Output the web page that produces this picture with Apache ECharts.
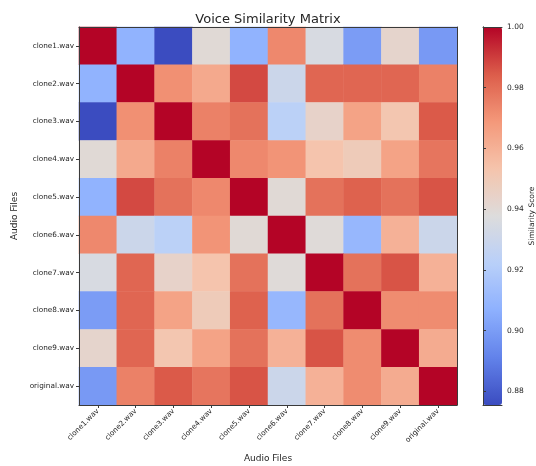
<!DOCTYPE html>
<html>
<head>
<meta charset="utf-8">
<script src="https://cdn.jsdelivr.net/npm/echarts@6/dist/echarts.min.js"></script>
<style>html,body{margin:0;padding:0;background:#fff;}#c{width:536px;height:466px;}</style>
</head>
<body>
<div id="c"></div>
<script>
const fileLabels = ['clone1.wav','clone2.wav','clone3.wav','clone4.wav','clone5.wav','clone6.wav','clone7.wav','clone8.wav','clone9.wav','original.wav'];
const rowClone1   = [1.000, 0.908, 0.8755, 0.940, 0.908, 0.973, 0.935, 0.900, 0.943, 0.899];
const rowClone2   = [0.908, 1.000, 0.971, 0.963, 0.988, 0.930, 0.982, 0.982, 0.982, 0.975];
const rowClone3   = [0.8755, 0.971, 1.000, 0.975, 0.979, 0.923, 0.944, 0.965, 0.952, 0.985];
const rowClone4   = [0.940, 0.963, 0.975, 1.000, 0.973, 0.970, 0.953, 0.949, 0.965, 0.978];
const rowClone5   = [0.908, 0.988, 0.979, 0.973, 1.000, 0.940, 0.979, 0.983, 0.979, 0.986];
const rowClone6   = [0.973, 0.930, 0.923, 0.970, 0.940, 1.000, 0.939, 0.910, 0.960, 0.930];
const rowClone7   = [0.935, 0.982, 0.944, 0.953, 0.979, 0.939, 1.000, 0.979, 0.986, 0.960];
const rowClone8   = [0.900, 0.982, 0.965, 0.949, 0.983, 0.910, 0.979, 1.000, 0.972, 0.972];
const rowClone9   = [0.943, 0.982, 0.952, 0.965, 0.979, 0.960, 0.986, 0.972, 1.000, 0.962];
const rowOriginal = [0.899, 0.975, 0.985, 0.978, 0.986, 0.930, 0.960, 0.972, 0.962, 1.000];
const colorbarTicks = [0.88, 0.90, 0.92, 0.94, 0.96, 0.98, 1.00];
const scoreMin = 0.8755;
const scoreMax = 1.0;

const rows = [rowClone1,rowClone2,rowClone3,rowClone4,rowClone5,rowClone6,rowClone7,rowClone8,rowClone9,rowOriginal];
const cells = [];
rows.forEach((r, yi) => r.forEach((v, xi) => cells.push([xi, yi, v])));

const coolwarm = ['#3b4cc0','#6282ea','#8db0fe','#b9d0f9','#dddcdc','#f5c4ac','#f4987a','#dc5d4a','#b40426'];
const FONT = 'DejaVu Sans';
const TXT = '#262626';
const LINE = '#3a3a3a';
const frameAxis = {axisLabel:{show:false}, axisTick:{show:false}, splitLine:{show:false}, axisLine:{show:true, lineStyle:{color:LINE, width:1}}, z:10};

const chart = echarts.init(document.getElementById('c'), null, {renderer:'canvas'});
chart.setOption({
  animation: false,
  backgroundColor: '#fff',
  textStyle: {fontFamily: FONT},
  title: {text:'Voice Similarity Matrix', left: 'center', top: 8, itemGap: 0,
    textStyle:{fontFamily:FONT, fontSize:13, fontWeight:'normal', color:TXT}},
  grid: [
    {left:79, top:27, width:378, height:378, outerBoundsMode:'none', containLabel:false},
    {left:483, top:27, width:19, height:378, outerBoundsMode:'none', containLabel:false}
  ],
  xAxis: [
    {type:'category', gridIndex:0, data:fileLabels, position:'bottom', z:10,
      axisLine:{show:true, lineStyle:{color:LINE}},
      axisTick:{show:true, alignWithLabel:true, length:3, lineStyle:{color:LINE}},
      axisLabel:{rotate:45, fontSize:7.3, color:TXT, fontFamily:FONT, margin:5, interval:0},
      splitLine:{show:false},
      name:'Audio Files', nameLocation:'middle', nameGap:49,
      nameTextStyle:{fontSize:9, color:TXT, fontFamily:FONT}},
    Object.assign({type:'category', gridIndex:0, data:fileLabels, position:'top'}, frameAxis),
    Object.assign({type:'value', gridIndex:1, min:0, max:1, position:'bottom'}, frameAxis),
    Object.assign({type:'value', gridIndex:1, min:0, max:1, position:'top'}, frameAxis)
  ],
  yAxis: [
    {type:'category', gridIndex:0, data:fileLabels, inverse:true, position:'left', z:10,
      axisLine:{show:true, lineStyle:{color:LINE}},
      axisTick:{show:true, alignWithLabel:true, length:3, lineStyle:{color:LINE}},
      axisLabel:{fontSize:7.3, color:TXT, fontFamily:FONT, margin:5, interval:0},
      splitLine:{show:false},
      name:'Audio Files', nameLocation:'middle', nameGap:60, nameRotate:90,
      nameTextStyle:{fontSize:9, color:TXT, fontFamily:FONT}},
    Object.assign({type:'category', gridIndex:0, data:fileLabels, inverse:true, position:'right'}, frameAxis),
    {type:'value', gridIndex:1, min:scoreMin, max:scoreMax, position:'right', z:10,
      axisLine:{show:true, lineStyle:{color:LINE}},
      axisTick:{show:true, length:3, customValues:colorbarTicks, lineStyle:{color:LINE}},
      axisLabel:{show:true, customValues:colorbarTicks, fontSize:7.5, color:TXT, fontFamily:FONT, margin:5,
        formatter:(v)=>Number(v).toFixed(2)},
      splitLine:{show:false},
      name:'Similarity Score', nameLocation:'middle', nameGap:23, nameRotate:90,
      nameTextStyle:{fontSize:7.5, color:TXT, fontFamily:FONT}},
    Object.assign({type:'value', gridIndex:1, min:scoreMin, max:scoreMax, position:'left'}, frameAxis)
  ],
  visualMap: {
    type:'continuous', min:scoreMin, max:scoreMax, calculable:false, hoverLink:false,
    orient:'vertical', left:483, top:27, itemWidth:19, itemHeight:378, padding:0,
    text:null, showLabel:false, seriesIndex:0,
    inRange:{color:coolwarm}
  },
  series: [{
    type:'heatmap', xAxisIndex:0, yAxisIndex:0, data:cells,
    itemStyle:{borderWidth:0}, emphasis:{disabled:true}, progressive:0
  }]
});
</script>
</body>
</html>
